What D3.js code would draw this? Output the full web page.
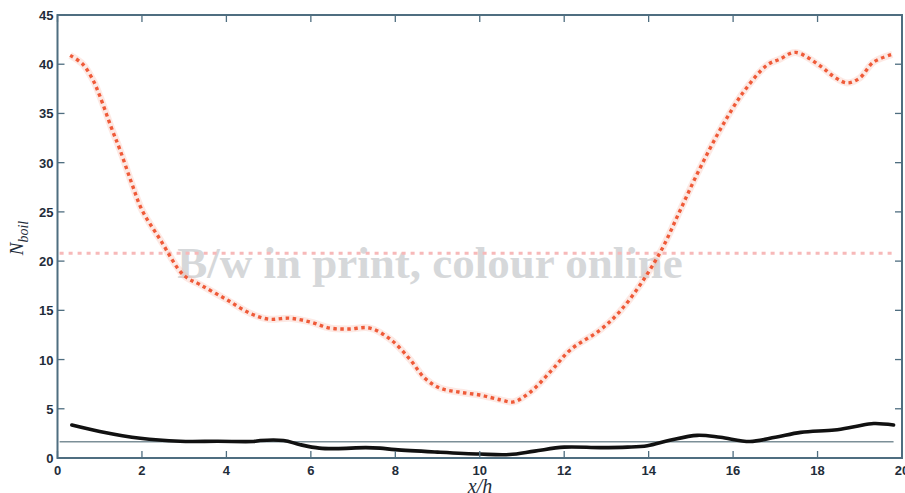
<!DOCTYPE html>
<html>
<head>
<meta charset="utf-8">
<script src="https://cdnjs.cloudflare.com/ajax/libs/d3/7.8.5/d3.min.js"></script>
<style>
  html, body { margin: 0; padding: 0; background: #fff; }
  svg { display: block; }
</style>
</head>
<body>
<svg id="chart" width="905" height="493"></svg>
<script>
// Boiling number along the channel (x/h) for two cases, plus reference levels
const xTicks = [0, 2, 4, 6, 8, 10, 12, 14, 16, 18, 20];
const yTicks = [0, 5, 10, 15, 20, 25, 30, 35, 40, 45];

const redX = [0.3, 0.6, 0.84, 1.0, 1.28, 1.48, 1.75, 2.0, 2.43, 2.98, 3.38, 4.0, 4.56, 5.0, 5.5, 6.0, 6.45, 6.9, 7.4, 7.9, 8.35, 8.7, 9.06, 9.5, 10.0, 10.5, 10.8, 11.2, 11.7, 12.15, 12.85, 13.3, 13.8, 14.3, 14.75, 15.2, 15.7, 16.25, 16.8, 17.1, 17.48, 18.07, 18.4, 18.7, 19.0, 19.32, 19.77];
const redY = [40.9, 40.0, 38.4, 36.8, 33.5, 31.3, 28.0, 25.2, 22.2, 18.6, 17.6, 16.1, 14.7, 14.1, 14.2, 13.8, 13.2, 13.1, 13.2, 12.0, 10.0, 8.1, 7.1, 6.7, 6.4, 5.9, 5.7, 6.7, 8.9, 11.0, 13.0, 14.8, 17.6, 21.1, 25.2, 29.3, 33.4, 37.2, 39.9, 40.5, 41.2, 39.8, 38.7, 38.1, 38.6, 40.2, 41.0];

const blackX = [0.34, 1.0, 1.96, 2.9, 3.8, 4.64, 4.8, 5.35, 5.75, 6.2, 6.6, 7.3, 7.64, 8.0, 9.0, 10.0, 10.7, 11.3, 12.0, 12.86, 13.5, 13.97, 14.5, 15.15, 15.7, 16.4, 17.0, 17.6, 18.4, 18.9, 19.33, 19.8];
const blackY = [3.35, 2.7, 2.0, 1.7, 1.7, 1.68, 1.78, 1.78, 1.35, 1.0, 0.95, 1.05, 1.0, 0.85, 0.6, 0.4, 0.35, 0.7, 1.1, 1.05, 1.1, 1.25, 1.8, 2.3, 2.1, 1.68, 2.1, 2.6, 2.85, 3.2, 3.5, 3.35];

const pinkLevel = 20.8;
const grayLevel = 1.65;
const levelRange = [0.05, 19.8];

const svg = d3.select("#chart");
const margin = { left: 57.5, right: 3, top: 15, bottom: 35 };
const W = 905, H = 493;

const x = d3.scaleLinear().domain([0, 20]).range([margin.left, W - margin.right]);
const y = d3.scaleLinear().domain([0, 45]).range([H - margin.bottom, margin.top]);

const axisColor = "#4f6e80";

// watermark text sits behind the data
svg.append("text")
  .attr("x", 430).attr("y", 278)
  .attr("text-anchor", "middle")
  .attr("font-family", "'Liberation Serif', 'Times New Roman', serif")
  .attr("font-weight", "bold")
  .attr("font-size", 45)
  .attr("fill", "#d6d8da")
  .text("B/w in print, colour online");

const line = d3.line()
  .x(d => x(d[0]))
  .y(d => y(d[1]))
  .curve(d3.curveCatmullRom.alpha(0.5));

// reference levels
svg.append("path")
  .attr("d", d3.line()(levelRange.map(v => [x(v), y(pinkLevel)])))
  .attr("stroke", "#f7b9b9").attr("stroke-width", 3)
  .attr("stroke-dasharray", "4,5").attr("fill", "none");

svg.append("path")
  .attr("d", d3.line()(levelRange.map(v => [x(v), y(grayLevel)])))
  .attr("stroke", "#7c8f98").attr("stroke-width", 1.4).attr("fill", "none");

// red dotted series with soft halo
const redData = redX.map((v, i) => [v, redY[i]]);
svg.append("path")
  .attr("d", line(redData))
  .attr("stroke", "#f7b7a4").attr("stroke-width", 7).attr("stroke-opacity", 0.3)
  .attr("fill", "none");
svg.append("path")
  .attr("d", line(redData))
  .attr("stroke", "#ef5a38").attr("stroke-width", 3.4)
  .attr("stroke-dasharray", "3.5,3.5").attr("fill", "none");

// black series
const blackData = blackX.map((v, i) => [v, blackY[i]]);
svg.append("path")
  .attr("d", line(blackData))
  .attr("stroke", "#111").attr("stroke-width", 3.6)
  .attr("stroke-linecap", "round").attr("fill", "none");

// frame and inward ticks on all four sides
const frame = svg.append("g");
frame.append("rect")
  .attr("x", x(0)).attr("y", y(45))
  .attr("width", x(20) - x(0)).attr("height", y(0) - y(45))
  .attr("fill", "none").attr("stroke", axisColor).attr("stroke-width", 2);

const tl = 7;
xTicks.forEach(t => {
  frame.append("line").attr("x1", x(t)).attr("x2", x(t)).attr("y1", y(0)).attr("y2", y(0) - tl)
    .attr("stroke", axisColor).attr("stroke-width", 1.3);
  frame.append("line").attr("x1", x(t)).attr("x2", x(t)).attr("y1", y(45)).attr("y2", y(45) + tl)
    .attr("stroke", axisColor).attr("stroke-width", 1.3);
});
yTicks.forEach(t => {
  frame.append("line").attr("x1", x(0)).attr("x2", x(0) + tl).attr("y1", y(t)).attr("y2", y(t))
    .attr("stroke", axisColor).attr("stroke-width", 1.3);
  frame.append("line").attr("x1", x(20)).attr("x2", x(20) - tl).attr("y1", y(t)).attr("y2", y(t))
    .attr("stroke", axisColor).attr("stroke-width", 1.3);
});

const labelFont = "'Liberation Sans', Arial, sans-serif";
frame.selectAll(".xt").data(xTicks).enter().append("text")
  .attr("x", d => x(d)).attr("y", y(0) + 17)
  .attr("text-anchor", "middle")
  .attr("font-family", labelFont).attr("font-weight", "bold").attr("font-size", 13)
  .attr("fill", "#1f2d3a").text(d => d);

frame.selectAll(".yt").data(yTicks).enter().append("text")
  .attr("x", x(0) - 4).attr("y", d => y(d) + 5)
  .attr("text-anchor", "end")
  .attr("font-family", labelFont).attr("font-weight", "bold").attr("font-size", 13)
  .attr("fill", "#1f2d3a").text(d => d);

// axis titles
svg.append("text")
  .attr("x", 480).attr("y", 493)
  .attr("text-anchor", "middle")
  .attr("font-family", "'Liberation Serif', 'Times New Roman', serif")
  .attr("font-style", "italic").attr("font-size", 20)
  .attr("fill", "#1f2d3a").text("x/h");

const yl = svg.append("text")
  .attr("transform", "translate(23,238) rotate(-90)")
  .attr("text-anchor", "middle")
  .attr("font-family", "'Liberation Serif', 'Times New Roman', serif")
  .attr("font-style", "italic").attr("fill", "#1f2d3a");
yl.append("tspan").attr("font-size", 19).text("N");
yl.append("tspan").attr("font-size", 14).attr("dy", 5).text("boil");
</script>
</body>
</html>
